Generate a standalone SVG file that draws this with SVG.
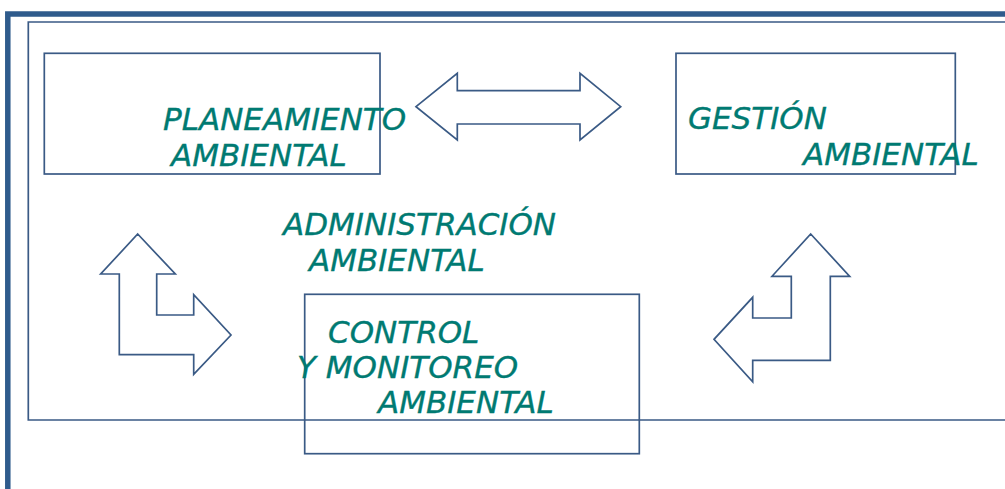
<svg xmlns="http://www.w3.org/2000/svg" width="1005" height="489" viewBox="0 0 1005 489">
<style>
.frame{fill:none;stroke:#2f5b8c;stroke-width:5.5}
.line{fill:none;stroke:#3a5a85;stroke-width:1.7}
.box{fill:none;stroke:#3a5a85;stroke-width:1.7}
.arrow{fill:#fff;stroke:#3a5a85;stroke-width:1.7;stroke-linejoin:miter}
.t{font-family:"DejaVu Sans","Verdana",sans-serif;font-style:italic;font-size:31px;fill:#007a72;stroke:#007a72;stroke-width:0.35}
</style>
<rect width="1005" height="489" fill="#fff"/>
<g id="frame">
<path class="frame" d="M7.8,489 V13.9 H1005"/>
<path class="line" d="M1005,22 H28.3 V420 H1005"/>
</g>
<g id="connectors">
<path class="arrow" d="M416,106.7 L457.3,73.3 L457.3,90.7 L580,90.7 L580,73.3 L620.7,106.7 L580,140 L580,124 L457.3,124 L457.3,140 Z"/>
<path class="arrow" d="M137.7,234 L175.3,274 L156.7,274 L156.7,315 L193.7,315 L193.7,294.7 L231,335 L193.7,374.3 L193.7,354.7 L119.3,354.7 L119.3,274 L100.7,274 Z"/>
<path class="arrow" d="M810.7,234 L849.7,276.3 L830.3,276.3 L830.3,360.3 L752.7,360.3 L752.7,381.7 L714,339.3 L752.7,297.3 L752.7,318 L791.3,318 L791.3,276.3 L772,276.3 Z"/>
</g>
<g id="planeamiento">
<rect class="box" x="44.3" y="53.3" width="335.7" height="120.7"/>
<text class="t" x="163" y="130">PLANEAMIENTO</text>
<text class="t" x="171" y="165.7">AMBIENTAL</text>
</g>
<g id="gestion">
<rect class="box" x="676" y="53.3" width="279.3" height="120.7"/>
<text class="t" x="688" y="129.3">GESTIÓN</text>
<text class="t" x="803" y="165">AMBIENTAL</text>
</g>
<g id="administracion">
<text class="t" x="283" y="235">ADMINISTRACIÓN</text>
<text class="t" x="309" y="270.7">AMBIENTAL</text>
</g>
<g id="control">
<rect class="box" x="304.7" y="294.3" width="334.6" height="159.4"/>
<text class="t" x="328" y="342.7">CONTROL</text>
<text class="t" x="297" y="377.7">Y MONITOREO</text>
<text class="t" x="378" y="413.3">AMBIENTAL</text>
</g>
</svg>
